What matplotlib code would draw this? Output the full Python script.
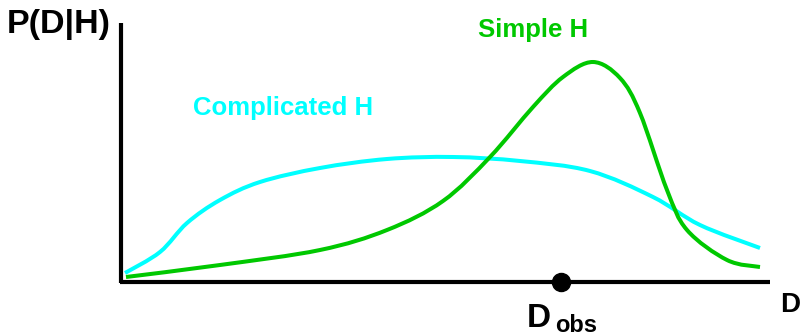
#!/usr/bin/env python3

"""Sketch of P(D|H) for a simple and a complicated hypothesis."""

import matplotlib

matplotlib.use("Agg")
import matplotlib.pyplot as plt
from matplotlib.patches import PathPatch
from matplotlib.path import Path

# x: distance from the y axis, y: height above the x axis (both in px of the original)
simple_x = [5, 99, 199, 266, 322, 369, 412, 442, 472, 499, 519, 546, 566, 606, 639]
simple_y = [5, 17, 32, 52, 81, 125, 175, 205, 220, 204, 169, 92, 52, 22, 15]

complicated_x = [4, 39, 66, 99, 139, 199, 266, 332, 399, 469, 532, 579, 639]
complicated_y = [9, 30, 59, 82, 100, 114, 123, 125, 121, 111, 85, 57, 34]

d_obs = 440
x_end = 649
y_top = 259

GREEN = "#00c800"
CYAN = "#00ffff"
FONT = "Liberation Sans"


def smooth_path(xs, ys):
    """Bezier path through the points (Catmull-Rom tangents), like a hand-drawn curve."""
    pts = list(zip(xs, ys))
    verts = [pts[0]]
    codes = [Path.MOVETO]
    for i in range(len(pts) - 1):
        p0 = pts[i - 1] if i > 0 else pts[i]
        p1 = pts[i]
        p2 = pts[i + 1]
        p3 = pts[i + 2] if i + 2 < len(pts) else pts[i + 1]
        c1 = (p1[0] + (p2[0] - p0[0]) / 6, p1[1] + (p2[1] - p0[1]) / 6)
        c2 = (p2[0] - (p3[0] - p1[0]) / 6, p2[1] - (p3[1] - p1[1]) / 6)
        verts += [c1, c2, p2]
        codes += [Path.CURVE4] * 3
    return Path(verts, codes)


def main() -> None:
    fig = plt.figure(figsize=(8.03, 3.36), dpi=100)
    ax = fig.add_axes([0, 0, 1, 1])
    ax.set_xlim(-121, 682)
    ax.set_ylim(-54, 282)
    ax.axis("off")

    # axes drawn by hand, like the sketch
    ax.plot([0, 0], [-1, y_top], color="black", linewidth=3, solid_capstyle="butt")
    ax.plot([-1, x_end], [0, 0], color="black", linewidth=3, solid_capstyle="butt")

    for xs, ys, color in [(complicated_x, complicated_y, CYAN), (simple_x, simple_y, GREEN)]:
        ax.add_patch(PathPatch(smooth_path(xs, ys), facecolor="none", edgecolor=color,
                               linewidth=2.9, capstyle="butt", joinstyle="round"))

    ax.plot([d_obs], [0], marker="o", markersize=13, color="black", zorder=5)

    ax.text(-114, 249, "P(D|H)", fontsize=24.5, fontweight="bold", family=FONT,
            va="baseline", ha="left")
    ax.text(357, 245, "Simple H", fontsize=18.5, fontweight="bold", family=FONT,
            color=GREEN, va="baseline", ha="left")
    ax.text(72, 167, "Complicated H", fontsize=18.5, fontweight="bold", family=FONT,
            color=CYAN, va="baseline", ha="left")
    ax.text(659, -30, "D", fontsize=20, fontweight="bold", family=FONT,
            va="baseline", ha="left")
    ax.text(406, -45, "D", fontsize=24, fontweight="bold", family=FONT,
            va="baseline", ha="left")
    ax.text(434, -50, "obs", fontsize=17, fontweight="bold", family=FONT,
            va="baseline", ha="left")

    fig.savefig("out.png", dpi=100, facecolor="white")
    plt.close(fig)


if __name__ == "__main__":
    main()
